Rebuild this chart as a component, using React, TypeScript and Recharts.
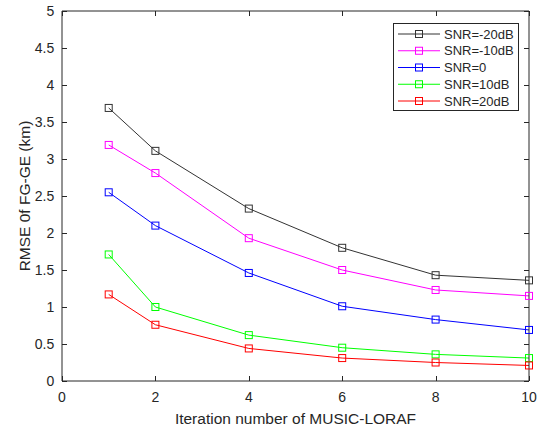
import React from 'react';
import { LineChart, Line, XAxis, YAxis } from 'recharts';

const iterations = [1, 2, 4, 6, 8, 10];
const snrM20 = [3.69, 3.11, 2.33, 1.8, 1.43, 1.36];
const snrM10 = [3.19, 2.81, 1.93, 1.5, 1.23, 1.15];
const snr0 = [2.55, 2.1, 1.46, 1.01, 0.83, 0.69];
const snr10 = [1.71, 1.0, 0.62, 0.45, 0.36, 0.31];
const snr20 = [1.17, 0.76, 0.44, 0.31, 0.25, 0.21];

const xTicks = [0, 2, 4, 6, 8, 10];
const yTicks = [0, 0.5, 1, 1.5, 2, 2.5, 3, 3.5, 4, 4.5, 5];
const xDomain = [0, 10];
const yDomain = [0, 5];

const seriesNames = ['SNR=-20dB', 'SNR=-10dB', 'SNR=0', 'SNR=10dB', 'SNR=20dB'];
const seriesKeys = ['m20', 'm10', 'z0', 'p10', 'p20'];
const seriesColors = ['#333333', '#ff00ff', '#0000ff', '#00ff00', '#ff0000'];
const seriesValues = [snrM20, snrM10, snr0, snr10, snr20];

const xLabel = 'Iteration number of MUSIC-LORAF';
const yLabel = 'RMSE 0f FG-GE (km)';

const data = iterations.map((it, i) => {
  const row: Record<string, number> = { it };
  seriesKeys.forEach((k, j) => {
    row[k] = seriesValues[j][i];
  });
  return row;
});

const FONT = '"Liberation Sans", Arial, Helvetica, sans-serif';
const AXIS = '#262626';
const W = 542;
const H = 427;
const M_TOP = 10;
const M_RIGHT = 12;
const LEFT_W = 62;
const BOTTOM_H = 46;
const PLOT_X = LEFT_W;
const PLOT_Y = M_TOP + 1;
const PLOT_W = W - LEFT_W - M_RIGHT - 1;
const PLOT_H = H - M_TOP - 1 - BOTTOM_H;
const TICK_PX = 5;
const XM = 11;
const YM = 8;

const xPix = (v: number) => PLOT_X + ((v - xDomain[0]) / (xDomain[1] - xDomain[0])) * PLOT_W;
const yPix = (v: number) => PLOT_Y + PLOT_H - ((v - yDomain[0]) / (yDomain[1] - yDomain[0])) * PLOT_H;

const SquareDot = (props: any) => {
  const { cx, cy, stroke } = props;
  if (cx == null || cy == null) return <g />;
  return <rect x={cx - 3.5} y={cy - 3.5} width={7} height={7} fill="none" stroke={stroke} strokeWidth={1} />;
};

const BottomTick = (props: any) => {
  const { x, y, payload } = props;
  return (
    <text x={x} y={y - XM + 20.5} textAnchor="middle" fill={AXIS} fontSize={14} fontFamily={FONT}>
      {payload.value}
    </text>
  );
};

const LeftTick = (props: any) => {
  const { x, y, payload } = props;
  return (
    <text x={x + YM - 7.7} y={y} dy="0.36em" textAnchor="end" fill={AXIS} fontSize={14} fontFamily={FONT}>
      {payload.value}
    </text>
  );
};

export default function App() {
  const yCx = 30;
  const yCy = PLOT_Y + PLOT_H / 2;
  return (
    <div style={{ position: 'relative', width: W, height: H, fontFamily: FONT }}>
      <style>{'body{margin:0;}'}</style>
      <LineChart
        width={W}
        height={H}
        data={data}
        margin={{ top: M_TOP, right: M_RIGHT, bottom: 0, left: 0 }}
      >
        <XAxis
          xAxisId="t"
          dataKey="it"
          type="number"
          domain={xDomain}
          ticks={xTicks}
          orientation="top"
          height={1}
          stroke={AXIS}
          tick={false}
          tickLine={false}
        />
        <YAxis
          yAxisId="r"
          type="number"
          domain={yDomain}
          ticks={yTicks}
          orientation="right"
          width={1}
          stroke={AXIS}
          tick={false}
          tickLine={false}
        />
        <XAxis
          xAxisId="b"
          dataKey="it"
          type="number"
          domain={xDomain}
          ticks={xTicks}
          orientation="bottom"
          height={BOTTOM_H}
          stroke={AXIS}
          tickLine={false}
          tickSize={0}
          tickMargin={XM}
          tick={<BottomTick />}
          interval={0}
        />
        <YAxis
          yAxisId="l"
          type="number"
          domain={yDomain}
          ticks={yTicks}
          orientation="left"
          width={LEFT_W}
          stroke={AXIS}
          tickLine={false}
          tickSize={0}
          tickMargin={YM}
          tick={<LeftTick />}
          interval={0}
        />
        {seriesKeys.map((k, j) => (
          <Line
            key={k}
            xAxisId="b"
            yAxisId="l"
            dataKey={k}
            stroke={seriesColors[j]}
            strokeWidth={1}
            dot={<SquareDot />}
            activeDot={false}
            isAnimationActive={false}
          />
        ))}
      </LineChart>
      <svg
        width={W}
        height={H}
        style={{ position: 'absolute', left: 0, top: 0, pointerEvents: 'none' }}
      >
        <g stroke={AXIS} strokeWidth={1} fill="none">
          {xTicks.map((v) => {
            const px = Math.round(xPix(v)) + 0.5;
            return (
              <g key={`xt${v}`}>
                <line x1={px} x2={px} y1={PLOT_Y + PLOT_H} y2={PLOT_Y + PLOT_H - TICK_PX} />
                <line x1={px} x2={px} y1={PLOT_Y} y2={PLOT_Y + TICK_PX} />
              </g>
            );
          })}
          {yTicks.map((v) => {
            const py = Math.round(yPix(v)) + 0.5;
            return (
              <g key={`yt${v}`}>
                <line x1={PLOT_X} x2={PLOT_X + TICK_PX} y1={py} y2={py} />
                <line x1={PLOT_X + PLOT_W} x2={PLOT_X + PLOT_W - TICK_PX} y1={py} y2={py} />
              </g>
            );
          })}
        </g>
        <text
          x={PLOT_X + PLOT_W / 2}
          y={H - 3}
          textAnchor="middle"
          fill={AXIS}
          fontSize={15.5}
          fontFamily={FONT}
        >
          {xLabel}
        </text>
        <text
          x={yCx}
          y={yCy}
          transform={`rotate(-90, ${yCx}, ${yCy})`}
          textAnchor="middle"
          fill={AXIS}
          fontSize={15.5}
          fontFamily={FONT}
        >
          {yLabel}
        </text>
        <g transform="translate(393, 23)">
          <rect x={0.5} y={0.5} width={125} height={87} fill="#ffffff" stroke={AXIS} strokeWidth={1} />
          {seriesNames.map((name, i) => {
            const y = 11 + i * 16.75;
            return (
              <g key={name}>
                <line x1={5} x2={47} y1={y} y2={y} stroke={seriesColors[i]} strokeWidth={1} />
                <rect x={22.5} y={y - 3.5} width={7} height={7} fill="none" stroke={seriesColors[i]} />
                <text x={51} y={y} dy="0.36em" fontSize={13} fill={AXIS} fontFamily={FONT}>
                  {name}
                </text>
              </g>
            );
          })}
        </g>
      </svg>
    </div>
  );
}
